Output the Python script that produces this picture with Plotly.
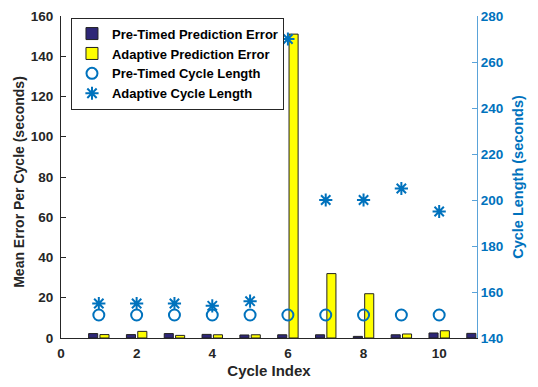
import plotly.graph_objects as go

cycles = [1, 2, 3, 4, 5, 6, 7, 8, 9, 10, 11]
pretimed_error = [2.2, 1.7, 2.2, 1.8, 1.5, 1.6, 1.6, 0.8, 1.6, 2.5, 2.3]
adaptive_error = [1.7, 3.3, 1.3, 1.6, 1.6, 151, 32, 22, 2.0, 3.6, None]
cycle_idx_len = [1, 2, 3, 4, 5, 6, 7, 8, 9, 10]
pretimed_len = [150, 150, 150, 150, 150, 150, 150, 150, 150, 150]
adaptive_len = [155, 155, 155, 154, 156, 270, 200, 200, 205, 195]

BLUE = "#0072BD"
FONT = "Liberation Sans"

fig = go.Figure()
fig.add_trace(go.Bar(x=cycles, y=pretimed_error, name="Pre-Timed Prediction Error",
                     marker=dict(color="#2e2777", line=dict(color="#222222", width=1))))
fig.add_trace(go.Bar(x=cycles, y=adaptive_error, name="Adaptive Prediction Error",
                     marker=dict(color="#ffff00", line=dict(color="#222222", width=1))))
fig.add_trace(go.Scatter(x=cycle_idx_len, y=pretimed_len, name="Pre-Timed Cycle Length",
                         mode="markers", yaxis="y2",
                         marker=dict(symbol="circle-open", size=11, color=BLUE,
                                     line=dict(width=2, color=BLUE))))
fig.add_trace(go.Scatter(x=cycle_idx_len, y=adaptive_len, name="Adaptive Cycle Length",
                         mode="markers", yaxis="y2",
                         marker=dict(symbol="asterisk-open", size=11, color=BLUE,
                                     line=dict(width=2, color=BLUE))))

fig.update_layout(
    width=530, height=379,
    margin=dict(l=53, r=61, t=8, b=49, autoexpand=False),
    paper_bgcolor="white", plot_bgcolor="white",
    barmode="group", bargap=0.4, bargroupgap=0.2,
    font=dict(family=FONT, size=13.5, color="#262626", weight="bold"),
    showlegend=True,
    legend=dict(x=0.024, y=0.995, xanchor="left", yanchor="top",
                bgcolor="white", bordercolor="#262626", borderwidth=1,
                font=dict(family=FONT, size=13, color="#000000", weight="bold"),
                itemwidth=30, tracegroupgap=0),
    xaxis=dict(range=[0, 11], tick0=0, dtick=2, showline=True, linecolor="#262626",
               linewidth=1, ticks="", showgrid=False, zeroline=False, automargin=False,
               ticklabelstandoff=3,
               title=dict(text="Cycle Index", font=dict(size=15, weight="bold"), standoff=5),
               tickfont=dict(size=13.5, weight="bold")),
    yaxis=dict(range=[0, 160], dtick=20, showline=True, linecolor="#262626", linewidth=1,
               ticks="inside", ticklen=5, tickcolor="#262626", showgrid=False, zeroline=False,
               automargin=False, ticklabelstandoff=4, ticklabeloverflow="allow",
               tickfont=dict(size=13.5, weight="bold")),
    yaxis2=dict(range=[140, 280], dtick=20, overlaying="y", side="right", anchor="x",
                showline=True, linecolor="#5aa3d9", linewidth=1, ticks="inside", ticklen=5,
                tickcolor="#5aa3d9", showgrid=False, zeroline=False, automargin=False,
                ticklabeloverflow="allow",
                tickfont=dict(size=13.5, color=BLUE, weight="bold"),
                title=dict(text="Cycle Length (seconds)", font=dict(size=14.5, color=BLUE, weight="bold"),
                           standoff=10)),
    annotations=[dict(text="Mean Error Per Cycle (seconds)", textangle=-90,
                      xref="paper", yref="paper", x=-0.101, y=0.485,
                      xanchor="center", yanchor="middle", showarrow=False,
                      font=dict(family=FONT, size=14, color="#262626", weight="bold"))],
)

fig.write_html("out.html")
